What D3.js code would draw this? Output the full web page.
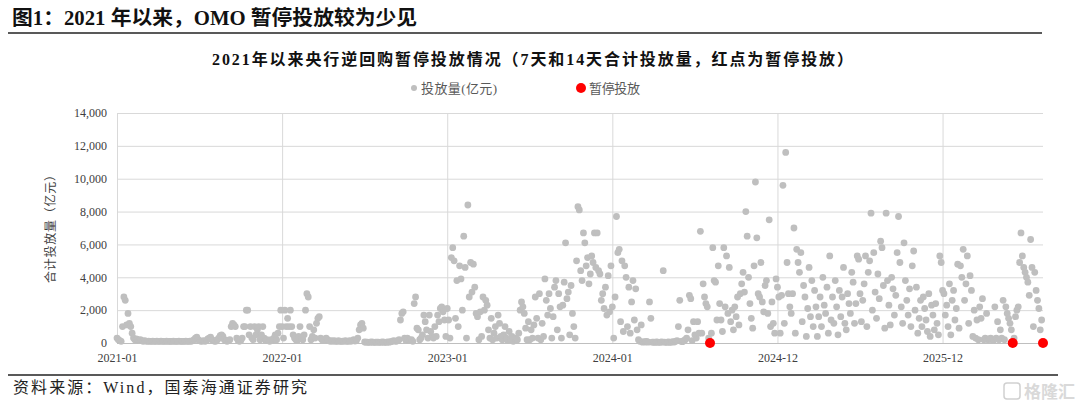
<!DOCTYPE html>
<html>
<head>
<meta charset="utf-8">
<script src="https://cdn.jsdelivr.net/npm/d3@7"></script>
<style>
body { margin: 0; background: #fff; }
svg text { font-family: "Liberation Serif", "Noto Sans CJK SC", serif; }
</style>
</head>
<body>
<svg id="chart" width="1080" height="406"></svg>
<script>
// tick labels on the category axis (one per segment start)
const tickLabels = ["2021-01", "2022-01", "2023-01", "2024-01", "2024-12", "2025-12"];
const yTicks = [0, 2000, 4000, 6000, 8000, 10000, 12000, 14000];

// 7天+14天逆回购合计投放量（亿元），每段一个数组
const val2021_01 = [
  300,200,150,100,1000,2800,2600,1100,1800,1200,
  1000,600,300,200,250,200,150,200,150,100,
  150,120,100,120,100,100,120,100,100,120,
  100,100,120,100,100,100,120,100,100,100,
  100,120,100,100,100,120,100,100,100,100,
  120,100,100,120,100,150,200,300,350,200,
  150,100,120,150,100,150,250,300,350,200,
  150,100,120,200,300,450,500,400,200,150,
  100,150,200,1000,1200,1100,1000,300,150,100,
  150,300,1000,1000,2000,2000,500,1000,300,200,
  1000,500,800,1000,200,500,1000,300,150,200,
  150,100,200,150,300,500,200,600,1000,2000
];
const val2022_01 = [
  1000,300,2000,1000,1500,1000,2000,1000,500,300,
  200,150,400,1000,300,200,500,2000,3000,2800,
  1000,200,400,800,300,1200,1500,1600,300,200,
  150,200,300,200,150,100,150,100,150,100,
  100,150,100,100,120,100,150,100,100,150,
  100,150,200,120,150,300,800,1100,1200,900,
  60,50,50,40,50,60,50,40,50,50,
  50,40,50,60,50,40,50,60,50,80,
  100,150,120,100,150,200,1400,1800,1900,300,
  150,300,200,150,200,100,2400,2800,900,800,
  200,300,500,1700,1300,800,300,1700,700,400,
  300,1000,400,1700,1300,2100,2200,1900,1400,400
];
const val2023_01 = [
  2100,1400,300,5200,5800,5000,1500,3800,1000,4700,
  3900,2000,6500,4600,300,8400,2800,4900,3100,4800,
  3400,1800,1600,200,1900,400,2800,2000,2600,2300,
  800,300,1500,200,600,1000,300,1700,1200,400,
  200,500,1000,300,150,700,200,400,100,300,
  300,200,600,2000,2500,2200,1800,900,200,1300,
  200,800,300,1100,2800,1500,300,3000,200,1200,
  400,3900,2600,1700,3000,2100,300,1600,3400,3800,
  800,3000,2200,300,2300,3700,6100,2700,3100,500,
  3500,1800,1000,300,5000,8300,8100,4400,3800,6700,
  6100,4700,5200,3600,4200,5300,4900,6700,4600,6700,
  4400,4200,2600,3000,2100,3400,1700,4100,1900,4700
];
const val2024_01 = [
  2200,300,2800,7700,5500,5700,1300,5000,700,4700,
  4000,1000,3400,600,2500,3800,1400,3300,800,200,
  100,1100,50,80,60,100,50,2500,1500,50,
  50,40,60,50,40,50,60,4400,50,40,
  50,60,40,50,80,60,100,150,1000,2600,
  100,80,150,200,300,800,2900,2700,150,1300,
  500,300,1300,600,6800,600,3600,2800,2400,2200,
  300,0,600,5800,3800,3700,1400,4700,2400,1400,
  700,5800,2200,5300,1800,4600,1300,2000,800,2200,
  1600,2800,1100,3000,3600,4300,3100,8000,6500,4000,
  2400,1500,900,4700,9800,6400,3000,2800,4900,2500,
  1900,3500,3800,1800,7500,1000,2500,1200,600,3900
];
const val2024_12 = [
  3400,2800,600,2900,9600,1200,11600,4900,3000,2200,
  1800,3000,7000,600,5700,4900,4300,5500,1300,3500,
  2800,400,2100,4600,1600,3800,1000,3200,2200,400,
  1600,2800,1000,4000,2300,1800,3400,600,5300,1400,
  2800,1200,3800,2200,500,3200,1600,2800,4600,1200,
  800,3000,2400,1800,4300,3700,1200,2400,5300,5100,
  3000,1300,2600,3600,5300,1000,4300,5000,7900,2000,
  5500,3100,1500,4200,2700,6200,5800,3500,900,7900,
  3800,2300,1100,4000,3300,1700,2900,5500,7700,4900,
  2200,1200,6100,3800,2600,1700,3300,1000,4700,5600,
  2000,3400,600,1500,2600,1000,2800,2100,1400,700,
  3000,400,2300,1700,800,2400,1200,500,5300,4900
];
const val2025_12 = [
  3200,3000,1700,2300,1000,3600,500,2600,3200,1400,
  2100,4800,900,4700,4000,5700,2600,3600,5300,1200,
  4100,3200,400,2000,300,1400,200,2200,1500,2700,
  200,300,1800,200,250,300,200,150,2200,300,
  1300,200,800,300,2600,200,2200,1800,1500,1200,
  800,0,300,1600,2000,2200,4900,6700,5300,4600,
  4300,4000,3700,2900,6300,4600,1000,4300,3200,2600,
  2100,800,1400,0
];
// 暂停投放的交易日（序号）
const pauseIdx = [431, 651, 673];

const segments = [val2021_01, val2022_01, val2023_01, val2024_01, val2024_12, val2025_12];
const values = [].concat(...segments);
let start = 0;
const tickIdx = segments.map(s => { const i = start; start += s.length; return i; });

const svg = d3.select("#chart");
const plotLeft = 117, plotRight = 1043, plotTop = 113, plotBottom = 343;

const x = d3.scaleLinear().domain([0, values.length - 1]).range([plotLeft, plotRight]);
const y = d3.scaleLinear().domain([0, 14000]).range([plotBottom, plotTop]);

// header
svg.append("text")
  .attr("x", 12).attr("y", 25)
  .attr("font-size", 20).attr("font-weight", "bold").attr("fill", "#111")
  .attr("textLength", 405).attr("lengthAdjust", "spacingAndGlyphs")
  .text("图1：2021 年以来，OMO 暂停投放较为少见");
svg.append("line")
  .attr("x1", 8).attr("x2", 1042).attr("y1", 33).attr("y2", 33)
  .attr("stroke", "#595959").attr("stroke-width", 2);

svg.append("text")
  .attr("x", 212).attr("y", 65)
  .attr("font-size", 16).attr("font-weight", "bold").attr("fill", "#111")
  .attr("textLength", 641).attr("lengthAdjust", "spacing")
  .text("2021年以来央行逆回购暂停投放情况（7天和14天合计投放量，红点为暂停投放）");

// legend
const legend = svg.append("g").attr("font-size", 13).attr("fill", "#595959");
legend.append("circle").attr("cx", 414).attr("cy", 88).attr("r", 3).attr("fill", "#bfbfbf");
legend.append("text").attr("x", 421).attr("y", 92.5).attr("fill", "#595959")
  .attr("textLength", 76).attr("lengthAdjust", "spacing").text("投放量(亿元)");
legend.append("circle").attr("cx", 581).attr("cy", 88).attr("r", 5).attr("fill", "#ff0000");
legend.append("text").attr("x", 589).attr("y", 92.5).attr("fill", "#595959")
  .attr("textLength", 51).attr("lengthAdjust", "spacing").text("暂停投放");

// y axis + horizontal grid
const yAxis = svg.append("g").attr("transform", `translate(${plotLeft},0)`)
  .call(d3.axisLeft(y).tickValues(yTicks).tickFormat(d3.format(","))
    .tickSize(-(plotRight - plotLeft)).tickPadding(10));
yAxis.select(".domain").remove();
yAxis.selectAll(".tick line").attr("stroke", d => d === 0 ? "#bfbfbf" : "#d9d9d9");
yAxis.selectAll(".tick text").attr("font-size", 12).attr("fill", "#404040")
  .style("font-family", "'Liberation Serif', serif");

// x axis + vertical grid
const xAxis = svg.append("g").attr("transform", `translate(0,${plotBottom})`)
  .call(d3.axisBottom(x).tickValues(tickIdx).tickFormat((d, i) => tickLabels[i])
    .tickSize(-(plotBottom - plotTop)).tickPadding(10));
xAxis.select(".domain").remove();
xAxis.selectAll(".tick line").attr("stroke", "#d9d9d9");
xAxis.selectAll(".tick text").attr("font-size", 12).attr("fill", "#404040")
  .style("font-family", "'Liberation Serif', serif");
yAxis.raise();

// y axis title
svg.append("text")
  .attr("transform", "translate(55,226) rotate(-90)")
  .attr("text-anchor", "middle")
  .attr("font-size", 12).attr("fill", "#404040")
  .attr("textLength", 114).attr("lengthAdjust", "spacing")
  .text("合计投放量（亿元）");

// points
svg.append("g").selectAll("circle").data(values).join("circle")
  .attr("cx", (d, i) => x(i)).attr("cy", d => y(d))
  .attr("r", 3.4).attr("fill", "#bfbfbf");

svg.append("g").selectAll("circle").data(pauseIdx).join("circle")
  .attr("cx", d => x(d)).attr("cy", y(0))
  .attr("r", 5).attr("fill", "#ff0000");

// footer
svg.append("line")
  .attr("x1", 8).attr("x2", 1058).attr("y1", 375).attr("y2", 375)
  .attr("stroke", "#222").attr("stroke-width", 1.5);
svg.append("text")
  .attr("x", 13).attr("y", 393)
  .attr("font-size", 16).attr("fill", "#222")
  .attr("textLength", 294).attr("lengthAdjust", "spacing")
  .text("资料来源：Wind，国泰海通证券研究");

// watermark
const wm = svg.append("g").attr("opacity", 0.55);
wm.append("rect").attr("x", 1004).attr("y", 383).attr("width", 16).attr("height", 16)
  .attr("rx", 3).attr("fill", "none").attr("stroke", "#aaa").attr("stroke-width", 1.5);
wm.append("text").attr("x", 1024).attr("y", 398)
  .attr("font-size", 17).attr("font-weight", "bold").attr("fill", "#bbb")
  .style("font-family", "'Noto Sans CJK SC', sans-serif")
  .text("格隆汇");
</script>
</body>
</html>
